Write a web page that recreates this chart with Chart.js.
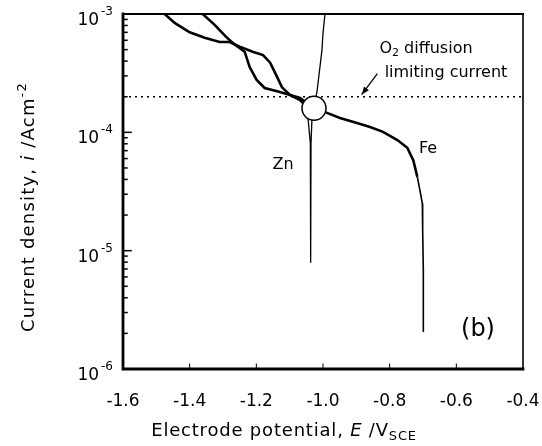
<!DOCTYPE html>
<html lang="en">
<head>
<meta charset="UTF-8" />
<title>Polarization curves Zn / Fe</title>
<script src="https://cdn.jsdelivr.net/npm/chart.js"></script>
<style>
  html, body { margin: 0; padding: 0; background: #fff; }
  #wrap { width: 542px; height: 446px; }
</style>
</head>
<body>
<div id="wrap"><canvas id="polChart" width="542" height="446"></canvas></div>
<script>
// === values: E in V(SCE), i in A/cm2 ===
const znCathE = [-1.475, -1.445, -1.400, -1.355, -1.310, -1.280, -1.250, -1.211, -1.180, -1.159, -1.144, -1.123, -1.099, -1.069, -1.054, -1.048];
const znCathI = [1.0e-3, 8.4e-4, 7.0e-4, 6.3e-4, 5.8e-4, 5.8e-4, 5.3e-4, 4.8e-4, 4.5e-4, 3.9e-4, 3.2e-4, 2.4e-4, 2.07e-4, 1.87e-4, 1.70e-4, 1.55e-4];

// thin part: dip to the Zn corrosion potential, then the anodic branch
const znAnodE = [-1.048, -1.045, -1.038, -1.037, -1.036, -1.033, -1.025, -1.018, -1.015, -1.009, -1.003, -1.000, -0.994];
const znAnodI = [1.55e-4, 1.32e-4, 8.1e-5, 7.9e-6, 8.1e-5, 1.32e-4, 1.8e-4, 2.2e-4, 2.6e-4, 3.6e-4, 5.0e-4, 6.9e-4, 1.0e-3];

const feCathE = [-1.361, -1.325, -1.295, -1.271, -1.235, -1.220, -1.199, -1.175, -1.129, -1.069, -1.048, -1.020, -0.988, -0.949, -0.898, -0.859, -0.820, -0.777, -0.747, -0.729, -0.717];
const feCathI = [1.0e-3, 8.1e-4, 6.6e-4, 5.7e-4, 4.8e-4, 3.56e-4, 2.77e-4, 2.37e-4, 2.19e-4, 1.95e-4, 1.77e-4, 1.6e-4, 1.46e-4, 1.32e-4, 1.20e-4, 1.11e-4, 1.01e-4, 8.6e-5, 7.4e-5, 5.8e-5, 4.2e-5];

const feTailE = [-0.717, -0.708, -0.702, -0.701, -0.699, -0.699, -0.699];
const feTailI = [4.2e-5, 3.1e-5, 2.5e-5, 1.5e-5, 6.9e-6, 3.0e-6, 2.05e-6];

const limitCurrent = [2e-4, 2e-4];
const limitE = [-1.6, -0.4];

const crossE = [-1.027];
const crossI = [1.6e-4];

const xTicks = [-1.6, -1.4, -1.2, -1.0, -0.8, -0.6, -0.4];
const yDecades = [-6, -5, -4, -3];

function pts(xs, ys) {
  return xs.map((v, k) => ({ x: v, y: ys[k] }));
}

const FONT = '"DejaVu Sans", Verdana, sans-serif';

// draws a run of [text, style] pieces from (x, y); style: 'n', 'i' (italic), 'sup', 'sub'
function drawRuns(ctx, runs, x, y, size, spacing) {
  ctx.letterSpacing = (spacing || 0) + 'px';
  runs.forEach(([txt, st]) => {
    let fs = size, dy = 0, it = '';
    if (st === 'i') it = 'italic ';
    if (st === 'sup') { fs = Math.round(size * 0.7); dy = -size * 0.45; }
    if (st === 'sub') { fs = Math.round(size * 0.7); dy = size * 0.2; }
    ctx.font = it + fs + 'px ' + FONT;
    ctx.fillText(txt, x, y + dy);
    x += ctx.measureText(txt).width;
  });
  ctx.letterSpacing = '0px';
}
function runsWidth(ctx, runs, size, spacing) {
  let w = 0;
  ctx.letterSpacing = (spacing || 0) + 'px';
  runs.forEach(([txt, st]) => {
    let fs = size, it = st === 'i' ? 'italic ' : '';
    if (st === 'sup' || st === 'sub') fs = Math.round(size * 0.7);
    ctx.font = it + fs + 'px ' + FONT;
    w += ctx.measureText(txt).width;
  });
  ctx.letterSpacing = '0px';
  return w;
}

const figureDecor = {
  id: 'figureDecor',
  afterDatasetsDraw(chart) {
    const { ctx, chartArea: a, scales: { x, y } } = chart;
    ctx.save();
    ctx.strokeStyle = '#000';
    ctx.fillStyle = '#000';
    ctx.textBaseline = 'alphabetic';

    // frame
    ctx.lineCap = 'square';
    ctx.lineWidth = 2.8;
    ctx.beginPath(); ctx.moveTo(a.left, a.top); ctx.lineTo(a.left, a.bottom); ctx.lineTo(a.right, a.bottom); ctx.stroke();
    ctx.lineWidth = 2;
    ctx.beginPath(); ctx.moveTo(a.left, a.top); ctx.lineTo(a.right, a.top); ctx.stroke();
    ctx.lineWidth = 1.6;
    ctx.beginPath(); ctx.moveTo(a.right, a.top); ctx.lineTo(a.right, a.bottom); ctx.stroke();

    // x ticks (inward) and labels
    ctx.lineWidth = 1;
    ctx.font = '17px ' + FONT;
    ctx.textAlign = 'center';
    xTicks.forEach(v => {
      const px = x.getPixelForValue(v);
      if (v > xTicks[0] && v < xTicks[xTicks.length - 1]) {
        ctx.beginPath(); ctx.moveTo(px, a.bottom); ctx.lineTo(px, a.bottom - 5); ctx.stroke();
      }
      ctx.fillText(v.toFixed(1), px, a.bottom + 37);
    });

    // y ticks: decades and minor 2..9
    ctx.lineWidth = 1.5;
    yDecades.forEach((d, k) => {
      const base = Math.pow(10, d);
      const py = y.getPixelForValue(base);
      ctx.beginPath(); ctx.moveTo(a.left, py); ctx.lineTo(a.left + 8, py); ctx.stroke();
      if (k < yDecades.length - 1) {
        for (let m = 2; m <= 9; m++) {
          const pm = y.getPixelForValue(base * m);
          ctx.beginPath(); ctx.moveTo(a.left, pm); ctx.lineTo(a.left + 4, pm); ctx.stroke();
        }
      }
      // label 10^d
      ctx.textAlign = 'right';
      ctx.font = '12px ' + FONT;
      const sup = '-' + Math.abs(d);
      ctx.fillText(sup, a.left - 10, py + 1);
      const sw = ctx.measureText(sup).width;
      ctx.font = '17px ' + FONT;
      ctx.fillText('10', a.left - 12 - sw, py + 11);
    });

    // axis titles
    ctx.textAlign = 'left';
    const xt = [['Electrode potential, ', 'n'], ['E', 'i'], [' /V', 'n'], ['SCE', 'sub']];
    const xw = runsWidth(ctx, xt, 18, 0.8);
    drawRuns(ctx, xt, 284 - xw / 2, a.bottom + 67, 18, 0.8);

    const yt = [['Current density, ', 'n'], ['i', 'i'], [' /Acm', 'n'], ['-2', 'sup']];
    const yw = runsWidth(ctx, yt, 18, 1.2);
    ctx.save();
    ctx.translate(34, 207);
    ctx.rotate(-Math.PI / 2);
    drawRuns(ctx, yt, -yw / 2, 0, 18, 1.2);
    ctx.restore();

    // annotations
    ctx.font = '16px ' + FONT;
    ctx.textAlign = 'center';
    ctx.fillText('Zn', x.getPixelForValue(-1.12), y.getPixelForValue(5.5e-5) + 6);
    ctx.fillText('Fe', x.getPixelForValue(-0.685), y.getPixelForValue(7.5e-5) + 6);
    ctx.fillText('limiting current', x.getPixelForValue(-0.631), y.getPixelForValue(3.3e-4) + 6);
    ctx.textAlign = 'left';
    const o2 = [['O', 'n'], ['2', 'sub'], [' diffusion', 'n']];
    const ow = runsWidth(ctx, o2, 16);
    drawRuns(ctx, o2, x.getPixelForValue(-0.691) - ow / 2, y.getPixelForValue(5.3e-4) + 6, 16);
    ctx.font = '24px ' + FONT;
    ctx.textAlign = 'center';
    ctx.fillText('(b)', x.getPixelForValue(-0.535), y.getPixelForValue(2.2e-6) + 8);

    // arrow to the limiting current line
    const ax0 = x.getPixelForValue(-0.838), ay0 = y.getPixelForValue(3.1e-4);
    const ax1 = x.getPixelForValue(-0.883), ay1 = y.getPixelForValue(2.1e-4);
    ctx.lineWidth = 1.3;
    ctx.beginPath(); ctx.moveTo(ax0, ay0); ctx.lineTo(ax1, ay1); ctx.stroke();
    const ang = Math.atan2(ay1 - ay0, ax1 - ax0);
    ctx.beginPath();
    ctx.moveTo(ax1, ay1);
    ctx.lineTo(ax1 - 8 * Math.cos(ang - 0.4), ay1 - 8 * Math.sin(ang - 0.4));
    ctx.lineTo(ax1 - 8 * Math.cos(ang + 0.4), ay1 - 8 * Math.sin(ang + 0.4));
    ctx.closePath();
    ctx.fill();

    ctx.restore();
  }
};

const ctx = document.getElementById('polChart').getContext('2d');
new Chart(ctx, {
  type: 'scatter',
  data: {
    datasets: [
      {
        label: 'Ecorr couple',
        data: pts(crossE, crossI),
        pointRadius: 12,
        pointBackgroundColor: '#fff',
        pointBorderColor: '#000',
        pointBorderWidth: 1.5,
        order: -1
      },
      {
        label: 'Zn cathodic',
        data: pts(znCathE, znCathI),
        showLine: true, pointRadius: 0,
        borderColor: '#000', borderWidth: 2.6
      },
      {
        label: 'Zn anodic',
        data: pts(znAnodE, znAnodI),
        showLine: true, pointRadius: 0,
        borderColor: '#000', borderWidth: 1.3
      },
      {
        label: 'Fe cathodic',
        data: pts(feCathE, feCathI),
        showLine: true, pointRadius: 0,
        borderColor: '#000', borderWidth: 2.6
      },
      {
        label: 'Fe tail',
        data: pts(feTailE, feTailI),
        showLine: true, pointRadius: 0,
        borderColor: '#000', borderWidth: 1.6
      },
      {
        label: 'O2 limiting current',
        data: pts(limitE, limitCurrent),
        showLine: true, pointRadius: 0,
        borderColor: '#000', borderWidth: 1.5,
        borderDash: [2, 4]
      }
    ]
  },
  options: {
    responsive: false,
    animation: false,
    layout: { padding: { left: 123, right: 19, top: 14, bottom: 77 } },
    plugins: { legend: { display: false }, tooltip: { enabled: false } },
    scales: {
      x: { type: 'linear', min: -1.6, max: -0.4, display: false },
      y: { type: 'logarithmic', min: 1e-6, max: 1e-3, display: false }
    }
  },
  plugins: [figureDecor]
});
</script>
</body>
</html>
